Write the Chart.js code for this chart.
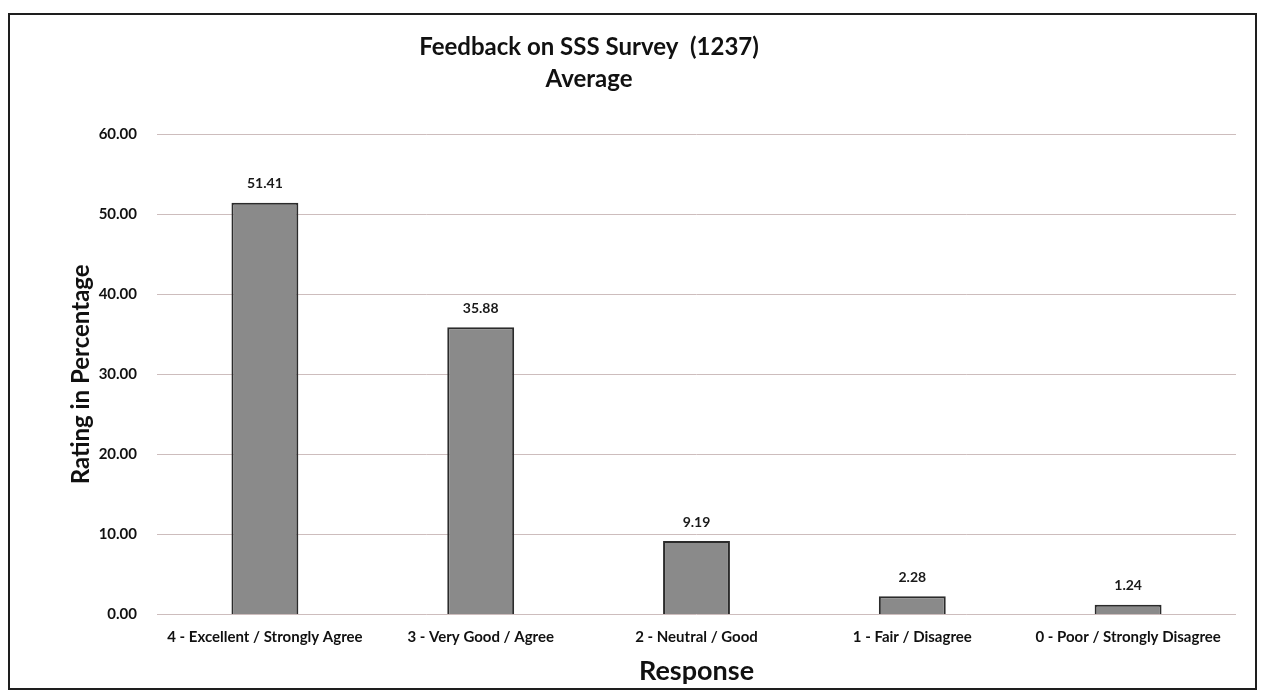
<!DOCTYPE html>
<html>
<head>
<meta charset="utf-8">
<script src="https://cdn.jsdelivr.net/npm/chart.js@4"></script>
<style>
  html, body { margin: 0; padding: 0; background: #ffffff; overflow: hidden; }
  #c { display: block; position: absolute; left: 0; top: 0; }
  #frame {
    position: absolute; left: 8px; top: 13px; width: 1245px; height: 673px;
    border: 2px solid #1e1e1e; pointer-events: none;
  }
</style>
</head>
<body>
<canvas id="c" width="1266" height="697"></canvas>
<div id="frame"></div>
<script>
const categories = [
  "4 - Excellent / Strongly Agree",
  "3 - Very Good / Agree",
  "2 - Neutral / Good",
  "1 - Fair / Disagree",
  "0 - Poor / Strongly Disagree"
];
const values = [51.41, 35.88, 9.19, 2.28, 1.24];
const titleLines = ["Feedback on SSS Survey  (1237)", "Average"];
const yAxisTitle = "Rating in Percentage";
const xAxisTitle = "Response";

const FONT = "Lato, 'Open Sans', sans-serif";

// Draws the value above each bar
const valueLabels = {
  id: "valueLabels",
  afterDatasetsDraw(chart) {
    const ctx = chart.ctx;
    const meta = chart.getDatasetMeta(0);
    ctx.save();
    ctx.font = "bold 14px " + FONT;
    ctx.fillStyle = "#1a1a1a";
    ctx.textAlign = "center";
    ctx.textBaseline = "middle";
    meta.data.forEach((bar, i) => {
      ctx.fillText(values[i].toFixed(2), bar.x, bar.y - 19);
    });
    ctx.restore();
  }
};

// Title drawn slightly left of centre, as in the original
const chartTitle = {
  id: "chartTitle",
  afterDraw(chart) {
    const ctx = chart.ctx;
    ctx.save();
    ctx.font = "bold 24px " + FONT;
    ctx.fillStyle = "#111111";
    ctx.textAlign = "center";
    ctx.textBaseline = "middle";
    const cx = 589;
    titleLines.forEach((t, i) => ctx.fillText(t, cx, 47 + i * 32));
    ctx.restore();
  }
};

new Chart(document.getElementById("c"), {
  type: "bar",
  data: {
    labels: categories,
    datasets: [{
      data: values,
      backgroundColor: "#8a8a8a",
      borderColor: "#2b2b2b",
      borderWidth: 2,
      barPercentage: 0.62,
      categoryPercentage: 0.5
    }]
  },
  options: {
    responsive: false,
    animation: false,
    layout: { padding: { left: 67, right: 30, top: 134, bottom: 10 } },
    plugins: {
      legend: { display: false },
      tooltip: { enabled: false },
      title: { display: false }
    },
    scales: {
      x: {
        grid: { display: false, drawTicks: false },
        border: { display: false },
        afterFit(scale) {
          scale.paddingLeft = 0;
          scale.paddingRight = 0;
          scale.height -= 6;
        },
        ticks: {
          color: "#111111",
          font: { family: FONT, size: 15, weight: "bold" },
          maxRotation: 0,
          autoSkip: false,
          padding: 14
        },
        title: {
          display: true,
          text: xAxisTitle,
          color: "#111111",
          font: { family: FONT, size: 27, weight: "bold" },
          padding: { top: 0, bottom: 0 }
        }
      },
      y: {
        min: 0,
        max: 60,
        border: { display: false },
        grid: { color: "#cdbdbd", lineWidth: 1, drawTicks: false },
        afterFit(scale) { scale.width = 90; },
        ticks: {
          stepSize: 10,
          color: "#111111",
          font: { family: FONT, size: 15, weight: "bold" },
          padding: 20,
          callback: v => Number(v).toFixed(2)
        },
        title: {
          display: true,
          text: yAxisTitle,
          color: "#111111",
          font: { family: FONT, size: 24, weight: "bold" },
          padding: { top: 0, bottom: 2 }
        }
      }
    }
  },
  plugins: [valueLabels, chartTitle]
});
</script>
</body>
</html>
